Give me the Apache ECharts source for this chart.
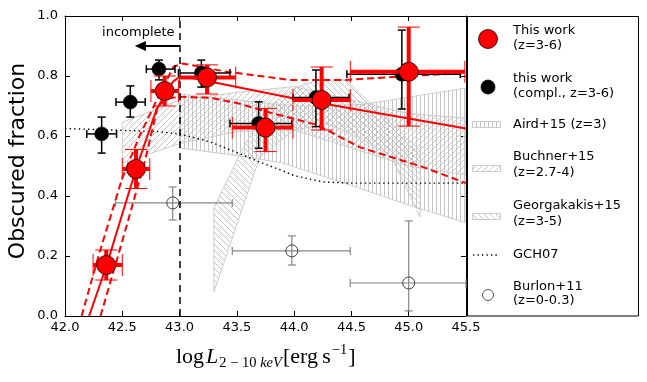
<!DOCTYPE html>
<html>
<head>
<meta charset="utf-8">
<script src="https://cdn.jsdelivr.net/npm/echarts@6/dist/echarts.min.js"></script>
<style>
  html, body { margin: 0; padding: 0; background: #fff; }
  #chart { width: 647px; height: 382px; }
</style>
</head>
<body>
<div id="chart"></div>
<script>
// This work (z=3-6): centre, x-range, y-range
const workX = [42.36, 42.62, 42.87, 43.24, 43.75, 44.24, 45.0]
const workY = [0.17, 0.49, 0.75, 0.795, 0.628, 0.72, 0.814]
const workXlo = [42.245, 42.50, 42.75, 43.0, 43.46, 43.99, 44.49]
const workXhi = [42.50, 42.74, 42.99, 43.49, 43.99, 44.49, 45.49]
const workYlo = [0.12, 0.425, 0.70, 0.74, 0.548, 0.62, 0.633]
const workYhi = [0.22, 0.555, 0.80, 0.837, 0.692, 0.83, 0.963]

// this work (compl., z=3-6)
const complX = [42.32, 42.57, 42.82, 43.19, 43.69, 44.19, 44.94]
const complY = [0.607, 0.713, 0.823, 0.81, 0.642, 0.728, 0.806]
const complXlo = [42.19, 42.445, 42.71, 42.99, 43.44, 43.99, 44.46]
const complXhi = [42.45, 42.70, 42.96, 43.44, 43.98, 44.48, 45.45]
const complYlo = [0.543, 0.663, 0.787, 0.763, 0.559, 0.631, 0.69]
const complYhi = [0.663, 0.767, 0.853, 0.853, 0.714, 0.82, 0.953]

// Burlon+11 (z=0-0.3)
const burlonX = [42.94, 43.98, 45.0]
const burlonY = [0.377, 0.217, 0.11]
const burlonXlo = [42.44, 43.46, 44.49]
const burlonXhi = [43.46, 44.49, 45.5]
const burlonYlo = [0.32, 0.17, 0.017]
const burlonYhi = [0.43, 0.267, 0.317]

// broken power-law fit and its confidence range
const fitBest = [[42.21, 0], [42.36, 0.165], [42.62, 0.49], [42.80, 0.69], [42.94, 0.78], [42.98, 0.792], [43.03, 0.797], [43.1, 0.794], [44.0, 0.725], [45.5, 0.625]]
const fitHigh = [[42.145, 0], [42.3, 0.21], [42.5, 0.46], [42.65, 0.60], [42.83, 0.743], [42.945, 0.83], [43.02, 0.842], [43.4, 0.815], [43.96, 0.787], [44.46, 0.787], [45.0, 0.80], [45.5, 0.81]]
const fitLow = [[42.31, 0], [42.5, 0.25], [42.70, 0.52], [42.81, 0.70], [42.9, 0.725], [43.0, 0.731], [43.27, 0.727], [43.5, 0.71], [43.8, 0.677], [44.2, 0.637], [44.57, 0.563], [45.12, 0.497], [45.5, 0.443]]

// GCH07 model
const gch07 = [[42.0, 0.625], [42.4, 0.62], [42.8, 0.615], [43.0, 0.607], [43.27, 0.58], [43.5, 0.545], [43.7, 0.513], [43.88, 0.487], [44.0, 0.468], [44.25, 0.447], [44.5, 0.443], [45.5, 0.443]]

// literature bands (upper edge, lower edge)
const airdUp = [[43.0, 0.74], [43.5, 0.72], [44.0, 0.70], [44.6, 0.705], [45.5, 0.76]]
const airdLow = [[43.0, 0.56], [43.5, 0.535], [43.9, 0.51], [44.5, 0.435], [45.0, 0.37], [45.5, 0.31]]
const buchnerUp = [[42.5, 0.645], [43.0, 0.72], [43.5, 0.745], [44.0, 0.765], [44.5, 0.72], [45.0, 0.675], [45.5, 0.66]]
const buchnerLow = [[42.5, 0.51], [43.0, 0.575], [43.5, 0.615], [44.0, 0.62], [44.5, 0.56], [45.0, 0.50], [45.5, 0.47]]
const georgUp = [[43.3, 0.36], [43.53, 0.543], [43.75, 0.69], [44.0, 0.76], [44.2, 0.785], [44.45, 0.787], [44.8, 0.66], [45.1, 0.55]]
const georgLow = [[43.3, 0.08], [43.7, 0.53], [44.0, 0.62], [44.3, 0.64], [44.6, 0.59], [44.85, 0.53], [45.1, 0.33]]

// completeness limit annotation
const limitX = 43.0
const arrowFrom = [43.0, 0.9]
const arrowTo = [42.61, 0.9]
const noteAt = [42.64, 0.943]

const rows = (x, y, xl, xh, yl, yh) => x.map((v, i) => [v, y[i], xl[i], xh[i], yl[i], yh[i]])

function hatch(kind) {
  const size = kind === '|' ? 4 : 6
  const c = document.createElement('canvas')
  c.width = size
  c.height = size
  const g = c.getContext('2d')
  g.strokeStyle = '#c4c4c4'
  g.lineWidth = 1
  g.beginPath()
  if (kind === '|') {
    g.moveTo(0.5, 0)
    g.lineTo(0.5, size)
  } else {
    for (const k of [-size, 0, size]) {
      if (kind === '/') {
        g.moveTo(k, size)
        g.lineTo(k + size, 0)
      } else {
        g.moveTo(k, 0)
        g.lineTo(k + size, size)
      }
    }
  }
  g.stroke()
  return { image: c, repeat: 'repeat' }
}

function band(name, up, low, kind) {
  return {
    name: name,
    type: 'custom',
    z: 1,
    clip: true,
    silent: true,
    data: [up[0]],
    renderItem: function(params, api) {
      const pts = up.map(p => api.coord(p)).concat(low.slice().reverse().map(p => api.coord(p)))
      return {
        type: 'polygon',
        shape: { points: pts },
        style: { fill: hatch(kind), stroke: '#cccccc', lineWidth: 1 }
      }
    }
  }
}

function errorBars(color, width, cap, capWidth) {
  return function(params, api) {
    const x = api.value(0)
    const y = api.value(1)
    const c = api.coord([x, y])
    const l = api.coord([api.value(2), y])
    const r = api.coord([api.value(3), y])
    const b = api.coord([x, api.value(4)])
    const t = api.coord([x, api.value(5)])
    const h = cap / 2
    const seg = (x1, y1, x2, y2, w) => ({
      type: 'line',
      shape: { x1: x1, y1: y1, x2: x2, y2: y2 },
      style: { stroke: color, lineWidth: w }
    })
    return {
      type: 'group',
      children: [
        seg(l[0], c[1], r[0], c[1], width),
        seg(c[0], t[1], c[0], b[1], width),
        seg(l[0], c[1] - h, l[0], c[1] + h, capWidth),
        seg(r[0], c[1] - h, r[0], c[1] + h, capWidth),
        seg(c[0] - h, t[1], c[0] + h, t[1], capWidth),
        seg(c[0] - h, b[1], c[0] + h, b[1], capWidth)
      ]
    }
  }
}

const font = '"DejaVu Sans", sans-serif'
const chart = echarts.init(document.getElementById('chart'))

// x axis title built from pieces (math style)
const measure = document.createElement('canvas').getContext('2d')
const mathFont = '"Liberation Serif", "DejaVu Serif", serif'
const pieces = [
  { t: 'log', s: 22, st: 'normal', dy: 0, gap: 2 },
  { t: 'L', s: 22, st: 'italic', dy: 0, gap: 1 },
  { t: '2 \u2212 10 ', s: 14.5, st: 'normal', dy: 6, gap: 0 },
  { t: 'keV', s: 14.5, st: 'italic', dy: 6, gap: 1 },
  { t: '[erg\u2009s', s: 22, st: 'normal', dy: 0, gap: 1 },
  { t: '\u22121', s: 14.5, st: 'normal', dy: -7, gap: 1 },
  { t: ']', s: 22, st: 'normal', dy: 0, gap: 0 }
]
const xTitle = []
let cx = 176
pieces.forEach(p => {
  const f = p.st + ' ' + p.s + 'px ' + mathFont
  measure.font = f
  xTitle.push({
    type: 'text', x: cx, y: 357 + p.dy, silent: true,
    style: { text: p.t, font: f, fill: '#000', align: 'left', verticalAlign: 'middle' }
  })
  cx += measure.measureText(p.t).width + p.gap
})

const legendText = (text, x, y) => ({
  type: 'text', x: x, y: y, silent: true,
  style: { text: text, font: '13px ' + font, fill: '#000', align: 'left', verticalAlign: 'middle' }
})

const legendItems = [
  { type: 'rect', shape: { x: 467.5, y: 16.5, width: 171, height: 299.5 }, style: { fill: '#fff', stroke: '#000', lineWidth: 1 } },
  { type: 'circle', shape: { cx: 488, cy: 39, r: 9.5 }, style: { fill: '#ff0000', stroke: '#000', lineWidth: 0.8 } },
  legendText('This work', 513, 31),
  legendText('(z=3-6)', 513, 46),
  { type: 'circle', shape: { cx: 488, cy: 87, r: 7 }, style: { fill: '#000', stroke: '#000', lineWidth: 0.8 } },
  legendText('this work', 513, 79),
  legendText('(compl., z=3-6)', 513, 94),
  { type: 'rect', shape: { x: 472.5, y: 121.5, width: 28, height: 6 }, style: { fill: hatch('|'), stroke: '#cccccc', lineWidth: 1 } },
  legendText('Aird+15 (z=3)', 513, 125),
  { type: 'rect', shape: { x: 472.5, y: 165.5, width: 28, height: 6 }, style: { fill: hatch('/'), stroke: '#cccccc', lineWidth: 1 } },
  legendText('Buchner+15', 513, 157),
  legendText('(z=2.7-4)', 513, 173),
  { type: 'rect', shape: { x: 472.5, y: 213.5, width: 28, height: 6 }, style: { fill: hatch('\\'), stroke: '#cccccc', lineWidth: 1 } },
  legendText('Georgakakis+15', 513, 206),
  legendText('(z=3-5)', 513, 222),
  { type: 'line', shape: { x1: 473, y1: 255, x2: 500, y2: 255 }, style: { stroke: '#000', lineWidth: 1.3, lineDash: [1.3, 3.2] } },
  legendText('GCH07', 513, 255),
  { type: 'circle', shape: { cx: 488, cy: 295, r: 5.5 }, style: { fill: 'none', stroke: '#555', lineWidth: 1 } },
  legendText('Burlon+11', 513, 287),
  legendText('(z=0-0.3)', 513, 301)
]

const valueAxis = (pos, min, max, step, labels) => ({
  type: 'value',
  position: pos,
  min: min,
  max: max,
  interval: step,
  axisLine: { show: true, onZero: false, lineStyle: { color: '#000', width: 1 } },
  axisTick: { show: true, inside: true, length: 5, lineStyle: { color: '#000', width: 1 } },
  axisLabel: {
    show: labels,
    color: '#000',
    fontSize: 13,
    fontFamily: font,
    margin: pos === 'left' ? 7 : 5,
    formatter: v => v.toFixed(1)
  },
  splitLine: { show: false }
})

chart.setOption({
  animation: false,
  backgroundColor: '#fff',
  grid: { left: 65, right: 181, top: 16, bottom: 66, show: false },
  xAxis: [valueAxis('bottom', 42, 45.5, 0.5, true), valueAxis('top', 42, 45.5, 0.5, false)],
  yAxis: [valueAxis('left', 0, 1, 0.2, true), valueAxis('right', 0, 1, 0.2, false)],
  graphic: [
    {
      type: 'text', x: 18, y: 161, rotation: Math.PI / 2, silent: true,
      style: { text: 'Obscured fraction', font: '22px ' + font, fill: '#000', align: 'center', verticalAlign: 'middle' }
    }
  ].concat(xTitle, legendItems),
  series: [
    band('Aird+15', airdUp, airdLow, '|'),
    band('Buchner+15', buchnerUp, buchnerLow, '/'),
    band('Georgakakis+15', georgUp, georgLow, '\\'),
    {
      name: 'Burlon+11 bars',
      type: 'custom',
      z: 2,
      silent: true,
      data: rows(burlonX, burlonY, burlonXlo, burlonXhi, burlonYlo, burlonYhi),
      renderItem: errorBars('#858585', 1.2, 8, 1.2)
    },
    {
      name: 'Burlon+11',
      type: 'scatter',
      z: 3,
      symbolSize: 12,
      itemStyle: { color: 'rgba(0,0,0,0)', borderColor: '#444', borderWidth: 1, opacity: 1 },
      data: burlonX.map((v, i) => [v, burlonY[i]])
    },
    {
      name: 'GCH07',
      type: 'line',
      z: 3,
      showSymbol: false,
      lineStyle: { color: '#000', width: 1.4, type: [1.4, 3.2] },
      data: gch07
    },
    {
      name: 'limit',
      type: 'line',
      z: 3,
      data: [],
      markLine: {
        silent: true,
        symbol: 'none',
        label: { show: false },
        lineStyle: { color: '#000', width: 1.5, type: [7, 5] },
        data: [{ xAxis: limitX }]
      }
    },
    {
      name: 'incomplete',
      type: 'custom',
      z: 3,
      silent: true,
      data: [arrowFrom],
      renderItem: function(params, api) {
        const a = api.coord(arrowFrom)
        const b = api.coord(arrowTo)
        const n = api.coord(noteAt)
        return {
          type: 'group',
          children: [
            { type: 'line', shape: { x1: a[0], y1: a[1], x2: b[0] + 8, y2: b[1] }, style: { stroke: '#000', lineWidth: 2 } },
            { type: 'polygon', shape: { points: [[b[0], b[1]], [b[0] + 11, b[1] - 5], [b[0] + 11, b[1] + 5]] }, style: { fill: '#000' } },
            { type: 'text', style: { text: 'incomplete', x: n[0], y: n[1], font: '13px ' + font, fill: '#000', align: 'center', verticalAlign: 'middle' } }
          ]
        }
      }
    },
    {
      name: 'fit high',
      type: 'line',
      z: 4,
      showSymbol: false,
      lineStyle: { color: '#ff0000', width: 2, type: [7, 4] },
      data: fitHigh
    },
    {
      name: 'fit low',
      type: 'line',
      z: 4,
      showSymbol: false,
      lineStyle: { color: '#ff0000', width: 2, type: [7, 4] },
      data: fitLow
    },
    {
      name: 'fit',
      type: 'line',
      z: 4,
      showSymbol: false,
      lineStyle: { color: '#ff0000', width: 2 },
      data: fitBest
    },
    {
      name: 'compl bars',
      type: 'custom',
      z: 5,
      silent: true,
      data: rows(complX, complY, complXlo, complXhi, complYlo, complYhi),
      renderItem: errorBars('#000', 1.5, 8, 1.5)
    },
    {
      name: 'this work (compl.)',
      type: 'scatter',
      z: 6,
      symbolSize: 14,
      itemStyle: { color: '#000', borderColor: '#000', borderWidth: 0.5, opacity: 1 },
      data: complX.map((v, i) => [v, complY[i]])
    },
    {
      name: 'work bars',
      type: 'custom',
      z: 7,
      silent: true,
      data: rows(workX, workY, workXlo, workXhi, workYlo, workYhi),
      renderItem: errorBars('#ff0000', 4, 22, 1)
    },
    {
      name: 'This work',
      type: 'scatter',
      z: 8,
      symbolSize: 19,
      itemStyle: { color: '#ff0000', borderColor: '#000', borderWidth: 0.8, opacity: 1 },
      data: workX.map((v, i) => [v, workY[i]])
    }
  ]
})
</script>
</body>
</html>
